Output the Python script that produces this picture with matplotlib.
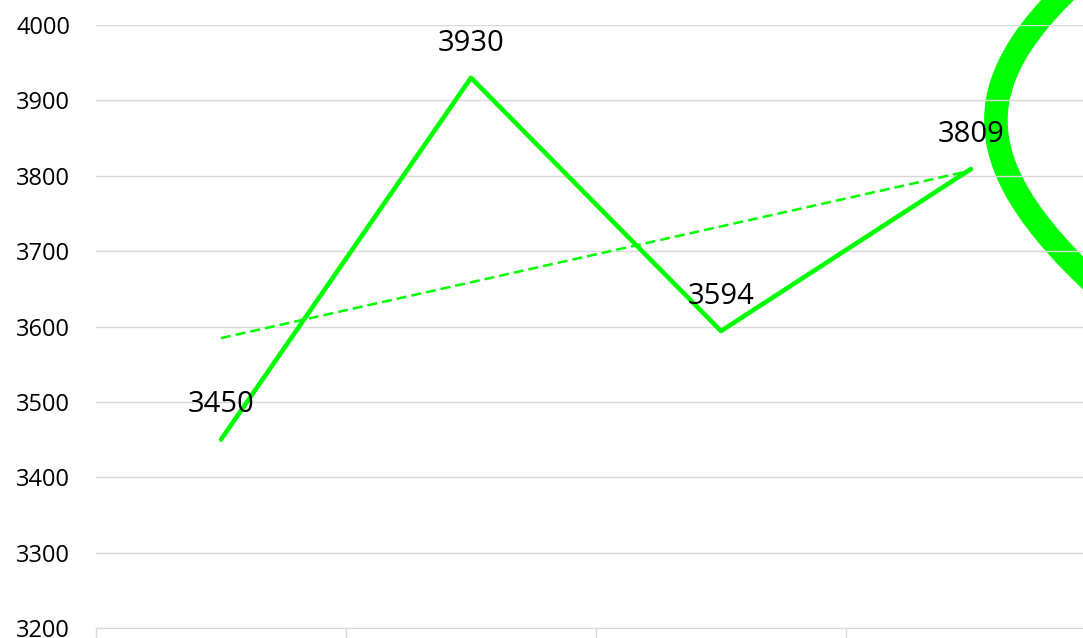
import numpy as np
import matplotlib.pyplot as plt
from matplotlib.path import Path
from matplotlib.patches import PathPatch

# values
periods = ["P1", "P2", "P3", "P4"]
values = [3450, 3930, 3594, 3809]
y_ticks = [3200, 3300, 3400, 3500, 3600, 3700, 3800, 3900, 4000]

GREEN = "#00FF00"
GRID = "#d9d9d9"

plt.rcParams["font.family"] = ["Open Sans", "DejaVu Sans"]

W, H = 1083, 638
fig = plt.figure(figsize=(W / 100, H / 100), dpi=100)
ax = fig.add_axes([96 / W, 10 / H, 1000 / W, 603 / H])

x = np.arange(len(values)) + 0.5
ax.plot(x, values, color=GREEN, lw=3.3, solid_capstyle="round", zorder=3)

# linear trendline
k, b = np.polyfit(np.arange(1, len(values) + 1), values, 1)
trend = k * np.arange(1, len(values) + 1) + b
ax.plot(x, trend, color=GREEN, lw=1.8, ls=(0, (4, 2)), zorder=3)

for xi, v in zip(x, values):
    ax.annotate(str(v), (xi, v), xytext=(0, 25), textcoords="offset points",
                ha="center", va="center", fontsize=21, color="black", zorder=5)

ax.set_xlim(0, len(values))
ax.set_ylim(y_ticks[0], y_ticks[-1])
ax.set_yticks(y_ticks)
ax.set_xticks(np.arange(len(values) + 1))
ax.set_xticklabels([])
ax.tick_params(axis="y", length=0, pad=18.5, labelsize=17)
ax.tick_params(axis="x", length=7, color=GRID, width=1)
ax.yaxis.grid(True, color=GRID, lw=1)
for side in ["left", "right", "top"]:
    ax.spines[side].set_visible(False)
ax.spines["bottom"].set_color(GRID)

# decorative swoosh on the right edge
pts = [(1080, -22), (963, 85), (963, 168), (1112, 300)]
verts = [(px / W, 1 - py / H) for px, py in pts]
swoosh = PathPatch(Path(verts, [Path.MOVETO, Path.CURVE4, Path.CURVE4, Path.CURVE4]),
                   transform=fig.transFigure, fill=False, edgecolor=GREEN, lw=17,
                   clip_on=False, zorder=1)
ax.add_patch(swoosh)

fig.savefig("out.png", dpi=100)
